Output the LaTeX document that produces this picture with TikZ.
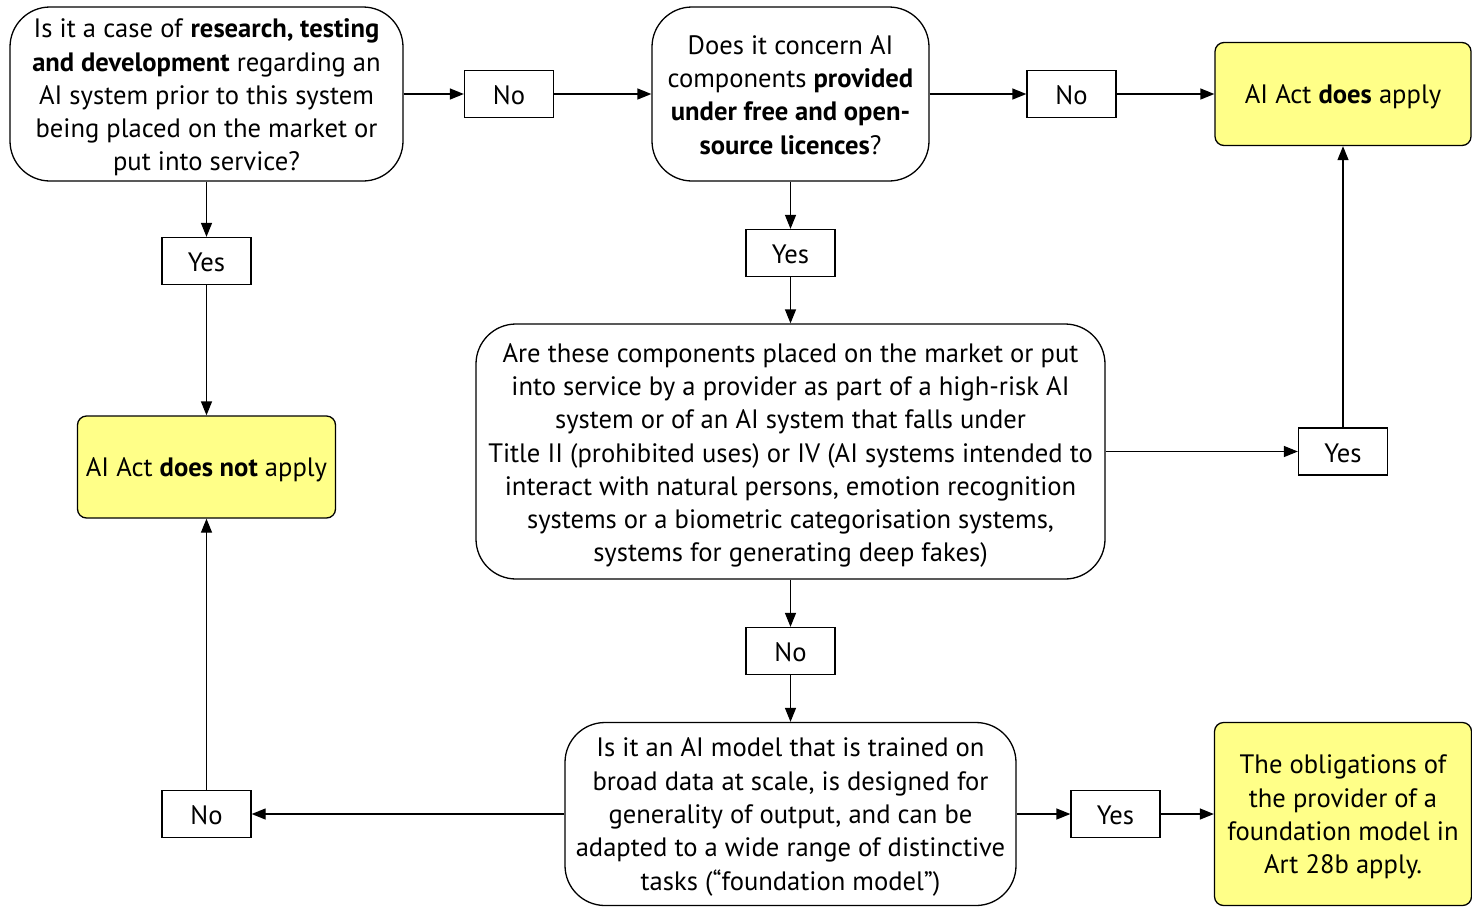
\documentclass[tikz,border=0pt]{standalone}
\usepackage{fontspec}
\setmainfont{PT Sans}
\usetikzlibrary{arrows.meta}
\definecolor{ylw}{HTML}{FFFF88}
\begin{document}
\begin{tikzpicture}[x=1pt,y=-1pt,
  every node/.style={inner sep=0pt},
  txt/.style={font=\fontsize{26.6}{33.3}\selectfont, align=center, inner sep=0pt},
  qbox/.style 2 args={draw, line width=1.3pt, rounded corners=40pt, minimum width=#1pt, minimum height=#2pt},
  lab/.style={draw, line width=1.3pt, minimum width=89pt, minimum height=47pt},
  res/.style 2 args={draw, line width=1.3pt, fill=ylw, rounded corners=9pt, minimum width=#1pt, minimum height=#2pt},
  arr/.style={-{Triangle[length=14pt,width=11pt]}, line width=1.3pt}]
\useasboundingbox (0,0) rectangle (1472,906);

% shapes
\node[qbox={393}{174}] (q1) at (206.5,94) {};
\node[lab] (no1) at (509,94) {};
\node[qbox={277}{174}] (q2) at (790.5,94) {};
\node[lab] (no2) at (1071.5,94) {};
\node[res={256}{103}] (apply) at (1343,94) {};
\node[lab] (yes1) at (206.5,261) {};
\node[res={258}{102}] (na) at (206.5,467) {};
\node[lab] (yes2) at (790.5,253) {};
\node[qbox={629}{255}] (q3) at (790.5,451.5) {};
\node[lab] (yes3) at (1343,451.5) {};
\node[lab] (no3) at (790.5,651) {};
\node[qbox={451}{183}] (q4) at (790.5,814) {};
\node[lab] (no4) at (206.5,814) {};
\node[lab] (yes4) at (1115.5,814) {};
\node[res={257}{183}] (fm) at (1343,814) {};

% texts
\node[txt] (q1t) at ([yshift=-3.5pt]q1.center) {Is it a case of \textbf{research, testing}\\\textbf{and development} regarding an\\AI system prior to this system\\being placed on the market or\\put into service?};
\node[txt] (no1t) at ([yshift=-1.5pt]no1.center) {No};
\node[txt] (q2t) at ([yshift=-1pt]q2.center) {Does it concern AI\\components \textbf{provided}\\\textbf{under free and open-}\\\textbf{source licences}?};
\node[txt] (no2t) at ([yshift=-1.5pt]no2.center) {No};
\node[txt] (applyt) at ([yshift=-3pt]apply.center) {AI Act \textbf{does} apply};
\node[txt] (yes1t) at ([yshift=-1.5pt]yes1.center) {Yes};
\node[txt] (nat) at ([yshift=-3pt]na.center) {AI Act \textbf{does not} apply};
\node[txt] (yes2t) at ([yshift=-1.5pt]yes2.center) {Yes};
\node[txt] (q3t) at ([yshift=-4pt]q3.center) {Are these components placed on the market or put\\into service by a provider as part of a high-risk AI\\system or of an AI system that falls under\\Title II (prohibited uses) or IV (AI systems intended to\\interact with natural persons, emotion recognition\\systems or a biometric categorisation systems,\\systems for generating deep fakes)};
\node[txt] (yes3t) at ([yshift=-1.5pt]yes3.center) {Yes};
\node[txt] (no3t) at ([yshift=-1.5pt]no3.center) {No};
\node[txt] (q4t) at ([yshift=-3pt]q4.center) {Is it an AI model that is trained on\\broad data at scale, is designed for\\generality of output, and can be\\adapted to a wide range of distinctive\\tasks (“foundation model”)};
\node[txt] (no4t) at ([yshift=-1.5pt]no4.center) {No};
\node[txt] (yes4t) at ([yshift=-1.5pt]yes4.center) {Yes};
\node[txt] (fmt) at ([yshift=-3pt]fm.center) {The obligations of\\the provider of a\\foundation model in\\Art 28b apply.};

% connectors
\draw[arr] (q1) -- (no1);
\draw[arr] (no1) -- (q2);
\draw[arr] (q2) -- (no2);
\draw[arr] (no2) -- (apply);
\draw[arr] (q1) -- (yes1);
\draw[arr] (yes1) -- (na);
\draw[arr] (q2) -- (yes2);
\draw[arr] (yes2) -- (q3);
\draw[arr] (q3) -- (yes3);
\draw[arr] (yes3) -- (apply);
\draw[arr] (q3) -- (no3);
\draw[arr] (no3) -- (q4);
\draw[arr] (q4) -- (no4);
\draw[arr] (no4) -- (na);
\draw[arr] (q4) -- (yes4);
\draw[arr] (yes4) -- (fm);
\end{tikzpicture}
\end{document}
